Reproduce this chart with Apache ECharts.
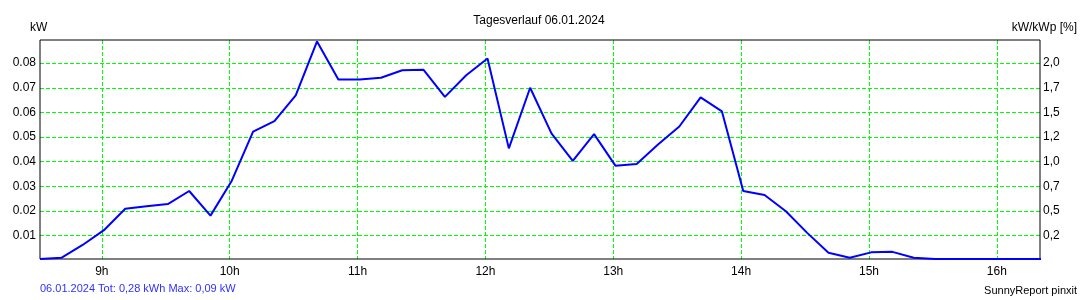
<!DOCTYPE html>
<html><head><meta charset="utf-8">
<script src="https://cdn.jsdelivr.net/npm/echarts@6/dist/echarts.min.js"></script>
<style>html,body{margin:0;padding:0;background:#fff}#c{width:1080px;height:300px}</style>
</head><body><div id="c"></div>
<script>
const titleText = 'Tagesverlauf 06.01.2024';
const leftUnit = 'kW';
const rightUnit = 'kW/kWp [%]';
const footerLeft = '06.01.2024 Tot: 0,28 kWh Max: 0,09 kW';
const footerRight = 'SunnyReport pinxit';

const times = ['8:31','8:41','8:51','9:01','9:11','9:21','9:31','9:41','9:51','10:01',
  '10:11','10:21','10:31','10:41','10:51','11:01','11:11','11:21','11:31','11:41',
  '11:51','12:01','12:11','12:21','12:31','12:41','12:51','13:01','13:11','13:21',
  '13:31','13:41','13:51','14:01','14:11','14:21','14:31','14:41','14:51','15:01',
  '15:11','15:21','15:31','15:41','15:51','16:01','16:11','16:21'];
const power = [0.0005,0.0010,0.0062,0.0122,0.0209,0.0219,0.0228,0.0281,0.0181,0.0323,
  0.0522,0.0565,0.0669,0.0888,0.0734,0.0734,0.0741,0.0771,0.0773,0.0663,
  0.0751,0.0819,0.0454,0.0700,0.0515,0.0403,0.0512,0.0384,0.0391,0.0470,
  0.0543,0.0661,0.0604,0.0281,0.0265,0.0199,0.0111,0.0030,0.0010,0.0032,
  0.0034,0.0010,0.0005,0.0005,0.0005,0.0005,0.0005,0.0005];

const hourTicks = [9,10,11,12,13,14,15,16];
const leftTicks = [0.01,0.02,0.03,0.04,0.05,0.06,0.07,0.08];
const leftLabels = ['0.01','0.02','0.03','0.04','0.05','0.06','0.07','0.08'];
const rightLabels = ['0,2','0,5','0,7','1,0','1,2','1,5','1,7','2,0'];

const xMin = 8 + 31/60, xMax = 16.3375;
const yMin = 0.0005, yMax = 0.0894;

function toHours(s){const p=s.split(':');return +p[0] + (+p[1])/60;}
function labelFor(v, labels){let bi=0,bd=1e9;leftTicks.forEach((t,i)=>{const d=Math.abs(t-v);if(d<bd){bd=d;bi=i;}});return labels[bi];}

const FONT = '"Liberation Sans", Arial, sans-serif';
function split(){ return {show:true, lineStyle:{color:'#00ff00', width:1, opacity:1, type:[4,2]}}; }

const chart = echarts.init(document.getElementById('c'), null, {renderer:'canvas'});
chart.setOption({
  animation:false,
  grid: {left:40, right:40, top:40, bottom:41, show:true, borderColor:'#000', borderWidth:1, backgroundColor:'transparent', z:3},
  xAxis: {
    type:'value', min:xMin, max:xMax,
    axisLine:{show:false}, axisTick:{show:false, customValues:hourTicks},
    axisLabel:{customValues:hourTicks, formatter:v=>Math.round(v)+'h', color:'#000', fontSize:12, fontFamily:FONT, margin:7},
    splitLine: split()
  },
  yAxis: [{
    type:'value', min:yMin, max:yMax, position:'left',
    axisLine:{show:false}, axisTick:{show:false, customValues:leftTicks},
    axisLabel:{customValues:leftTicks, formatter:v=>labelFor(v,leftLabels), color:'#000', fontSize:12, fontFamily:FONT, margin:4},
    splitLine: split()
  },{
    type:'value', min:yMin, max:yMax, position:'right',
    axisLine:{show:false}, axisTick:{show:false, customValues:leftTicks},
    axisLabel:{customValues:leftTicks, formatter:v=>labelFor(v,rightLabels), color:'#000', fontSize:12, fontFamily:FONT, margin:3},
    splitLine:{show:false}
  }],
  series: [{
    type:'line', data: times.map((t,i)=>[toHours(t), power[i]]),
    showSymbol:false, symbol:'none', clip:true,
    lineStyle:{color:'#0000ff', width:2}, itemStyle:{color:'#0000ff'}
  }],
  graphic: [
    {type:'text', x:539, y:20.5, style:{text:titleText, font:'12px '+FONT, fill:'#000', align:'center', verticalAlign:'middle'}},
    {type:'text', x:30, y:27.5, style:{text:leftUnit, font:'12px '+FONT, fill:'#000', align:'left', verticalAlign:'middle'}},
    {type:'text', x:1077, y:27.5, style:{text:rightUnit, font:'12px '+FONT, fill:'#000', align:'right', verticalAlign:'middle'}},
    {type:'text', x:40, y:288.5, style:{text:footerLeft, font:'11px '+FONT, fill:'#3030ff', align:'left', verticalAlign:'middle'}},
    {type:'text', x:1077, y:291, style:{text:footerRight, font:'11px '+FONT, fill:'#000', align:'right', verticalAlign:'middle'}}
  ]
});
</script></body></html>
